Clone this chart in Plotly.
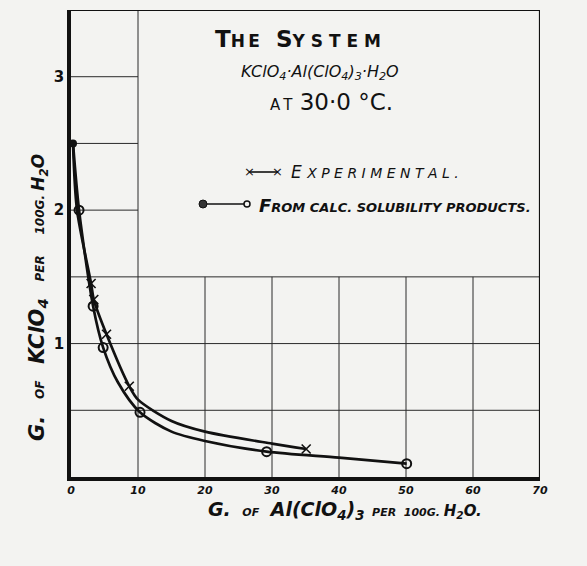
import plotly.graph_objects as go

# Solubility data, g per 100 g H2O
# Experimental points (crosses)
exp_al = [3.0, 3.4, 5.3, 8.7, 35.1]
exp_k = [1.45, 1.33, 1.07, 0.68, 0.21]
# Values from calculated solubility products (circles)
calc_al = [1.2, 3.3, 4.8, 10.3, 29.2, 50.1]
calc_k = [2.0, 1.28, 0.97, 0.485, 0.19, 0.10]
# Pure-water solubility of KClO4 (common starting point of both curves)
start_al = [0.3]
start_k = [2.5]
# Points
exp_curve_al = [0.3, 0.9, 3.0, 3.4, 5.3, 8.7, 10.0, 15.0, 20.0, 30.0, 35.1]
exp_curve_k = [2.5, 2.0, 1.45, 1.33, 1.07, 0.68, 0.58, 0.42, 0.34, 0.25, 0.21]
calc_curve_al = [0.3, 1.2, 3.3, 4.8, 7.0, 10.3, 15.0, 20.0, 29.2, 40.0, 50.1]
calc_curve_k = [2.5, 2.0, 1.28, 0.97, 0.71, 0.485, 0.34, 0.27, 0.19, 0.145, 0.10]

# Axis ticks and grid layout
x_ticks = [0, 10, 20, 30, 40, 50, 60, 70]
y_ticks = [1, 2, 3]
x_max, y_max = 70, 3.5
full_rows = [0.5, 1.0, 1.5]        # horizontal rulings across the whole sheet
short_rows = [2.0, 2.5, 3.0]       # rulings only in the first column
short_row_end = 10
full_cols = [10]                   # vertical rulings up to the top
short_cols = [20, 30, 40, 50, 60]  # vertical rulings up to the last full row

INK = "#111111"
PAPER = "#f3f3f1"
HAND = "DejaVu Sans"

fig = go.Figure()

fig.add_trace(go.Scatter(x=exp_curve_al, y=exp_curve_k, mode="lines",
                         line=dict(color=INK, width=2.7, shape="spline", smoothing=0.8),
                         hoverinfo="skip", showlegend=False))
fig.add_trace(go.Scatter(x=calc_curve_al, y=calc_curve_k, mode="lines",
                         line=dict(color=INK, width=2.7, shape="spline", smoothing=0.8),
                         hoverinfo="skip", showlegend=False))
fig.add_trace(go.Scatter(x=exp_al, y=exp_k, mode="markers", name="Experimental",
                         marker=dict(symbol="x-thin", size=9, color=INK,
                                     line=dict(color=INK, width=1.6)),
                         showlegend=False))
fig.add_trace(go.Scatter(x=calc_al, y=calc_k, mode="markers", name="From calc. solubility products",
                         marker=dict(symbol="circle-open", size=9, color=INK,
                                     line=dict(color=INK, width=2)),
                         showlegend=False))
fig.add_trace(go.Scatter(x=start_al, y=start_k, mode="markers",
                         marker=dict(symbol="circle", size=8, color=INK),
                         showlegend=False))

shapes = []
grid_line = dict(color="#2a2a2a", width=1)
for r in full_rows:
    shapes.append(dict(type="line", xref="x", yref="y", x0=0, x1=x_max, y0=r, y1=r,
                       line=grid_line, layer="below"))
for r in short_rows:
    shapes.append(dict(type="line", xref="x", yref="y", x0=0, x1=short_row_end, y0=r, y1=r,
                       line=grid_line, layer="below"))
for c in full_cols:
    shapes.append(dict(type="line", xref="x", yref="y", x0=c, x1=c, y0=0, y1=y_max,
                       line=grid_line, layer="below"))
for c in short_cols:
    shapes.append(dict(type="line", xref="x", yref="y", x0=c, x1=c, y0=0, y1=max(full_rows),
                       line=grid_line, layer="below"))
# top and right edges of the frame
shapes.append(dict(type="line", xref="x", yref="y", x0=0, x1=x_max, y0=y_max, y1=y_max,
                   line=dict(color=INK, width=2.2)))
shapes.append(dict(type="line", xref="x", yref="y", x0=x_max, x1=x_max, y0=0, y1=y_max,
                   line=dict(color=INK, width=2.2)))


def px(xp):
    return (xp - 71) / 469.0


def py(yp):
    return (477 - yp) / 467.0


# legend keys
shapes.append(dict(type="line", xref="paper", yref="paper", x0=px(249), x1=px(277),
                   y0=py(172), y1=py(172), line=dict(color=INK, width=1.6)))
shapes.append(dict(type="line", xref="paper", yref="paper", x0=px(204), x1=px(244),
                   y0=py(204), y1=py(204), line=dict(color=INK, width=1.6)))
shapes.append(dict(type="circle", xref="paper", yref="paper", x0=px(199), x1=px(207),
                   y0=py(208), y1=py(200), fillcolor="#333333", line=dict(color=INK, width=1)))
shapes.append(dict(type="circle", xref="paper", yref="paper", x0=px(244), x1=px(250),
                   y0=py(207), y1=py(201), fillcolor=PAPER, line=dict(color=INK, width=1.5)))

ann = []


def note(x, y, text, size, xanchor="center", style="normal", weight="normal", **kw):
    d = dict(x=px(x), y=py(y), xref="paper", yref="paper", text=text, showarrow=False,
             xanchor=xanchor, yanchor="middle",
             font=dict(family=HAND, size=size, color=INK, weight=weight, style=style))
    d.update(kw)
    ann.append(d)


def sz(text, size):
    return f"<span style='font-size:{size}px'>{text}</span>"


def spaced(word, gap="\u2009"):
    return gap.join(word)


for xk in (249, 277):
    note(xk, 172, "×", 13)

note(298, 39, "T" + sz(spaced("HE"), 17) + "  S" + sz(spaced("YSTEM", " "), 17), 23,
     weight="bold")
note(320, 72, "KClO<sub>4</sub>·Al(ClO<sub>4</sub>)<sub>3</sub>·H<sub>2</sub>O", 16, style="italic")
note(331, 102, sz(spaced("AT"), 15) + " 30·0 °C.", 23)
note(289, 172, "E " + sz(spaced("XPERIMENTAL.", " "), 14), 17, xanchor="left", style="italic")
note(257, 205, sz("F", 18) + "ROM CALC. SOLUBILITY PRODUCTS.", 13,
     xanchor="left", style="italic", weight="bold")
note(345, 510, sz("G.", 19) + "   OF   " + sz("Al(ClO<sub>4</sub>)<sub>3</sub>", 19)
     + "  PER  100G. " + sz("H<sub>2</sub>O.", 15), 11, style="italic", weight="bold")
note(38, 298, sz("G.", 21) + "    OF    " + sz("KClO<sub>4</sub>", 21)
     + "    PER     100G. " + sz("H<sub>2</sub>O", 17), 12, style="italic", weight="bold",
     textangle=-90)

fig.update_layout(
    width=587, height=566,
    margin=dict(l=71, r=47, t=10, b=89),
    paper_bgcolor=PAPER, plot_bgcolor=PAPER,
    shapes=shapes, annotations=ann,
    showlegend=False,
    xaxis=dict(range=[0, x_max], tickvals=x_ticks, ticktext=[str(v) for v in x_ticks],
               showgrid=False, zeroline=False, showline=True, linecolor=INK, linewidth=3.5,
               ticks="", ticklabelstandoff=0,
               tickfont=dict(family=HAND, size=11, color=INK, weight="bold", style="italic")),
    yaxis=dict(range=[0, y_max], tickvals=y_ticks, ticktext=[str(v) for v in y_ticks],
               showgrid=False, zeroline=False, showline=True, linecolor=INK, linewidth=3.5,
               ticks="", ticklabelstandoff=0,
               tickfont=dict(family=HAND, size=15, color=INK, weight="bold")),
)

fig.write_html("out.html")
